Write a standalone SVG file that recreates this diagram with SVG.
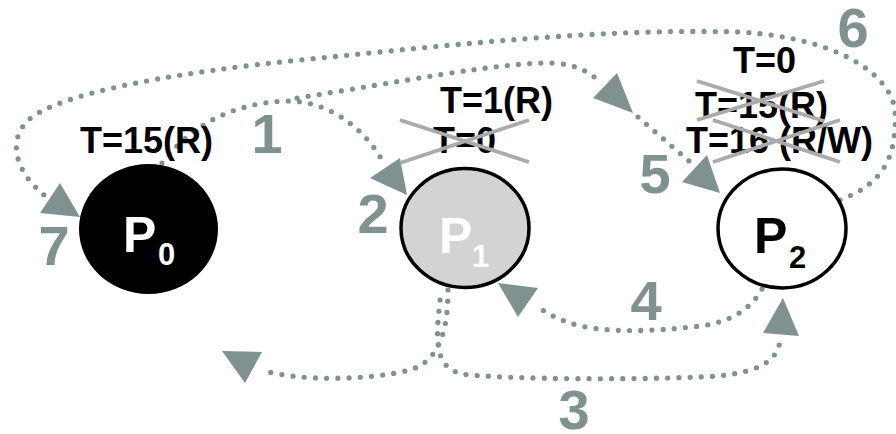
<svg xmlns="http://www.w3.org/2000/svg" width="896" height="434" viewBox="0 0 896 434">
<style>
.lbl{font-family:"Liberation Sans",Arial,sans-serif;font-weight:bold;font-size:36px;fill:#000}
.num{font-family:"Liberation Sans",Arial,sans-serif;font-weight:bold;font-size:56px;fill:#7f9290;text-anchor:middle}
.pn{font-family:"Liberation Sans",Arial,sans-serif;font-weight:bold;font-size:50px}
.sub{font-family:"Liberation Sans",Arial,sans-serif;font-weight:bold;font-size:31px}
.dot{fill:none;stroke:#7f9290;stroke-width:5.2;stroke-linecap:round;stroke-dasharray:0 11.2}
.ah{fill:#7f9290}
.x{stroke:#aaaaaa;stroke-width:3.8;fill:none}
</style>
<rect width="896" height="434" fill="#fff"/>
<g id="connectors">
  <path class="dot" d="M162 163 C195 120 240 103 285 101 C330 100 365 130 382 160"/>
  <polygon class="ah" points="370,178 400,158 407,195"/>
  <path class="dot" d="M297 98 C400 82 500 62 552 63 C575 64 590 72 600 82"/>
  <polygon class="ah" points="593,98 617,73 633,113"/>
  <path class="dot" d="M638 117 L697 168"/>
  <polygon class="ah" points="682,182 707,155 720,193"/>
  <path class="dot" d="M840 200 C880 185 898 160 895 110 C890 75 840 38 740 32 C600 28 450 45 300 60 C180 72 80 90 40 112 C5 130 10 170 48 198"/>
  <polygon class="ah" points="40,213 60,183 80,217"/>
  <path class="dot" d="M448 290 C448 325 442 360 410 370 C370 380 300 382 262 370"/>
  <polygon class="ah" points="222,351 262,352 245,383"/>
  <path class="dot" d="M440 300 C436 340 432 372 470 375 C520 379 620 380 700 377 C760 375 778 360 780 340"/>
  <polygon class="ah" points="763,333 783,298 799,336"/>
  <path class="dot" d="M762 289 C750 310 730 322 700 326 C650 332 600 333 570 323 C555 318 545 312 535 305"/>
  <polygon class="ah" points="498,283 538,288 518,317"/>
</g>
<g id="P0">
  <ellipse cx="148.5" cy="229" rx="69.5" ry="65" fill="#000"/>
  <text class="pn" x="123" y="252" fill="#fff">P</text>
  <text class="sub" x="158" y="265" fill="#fff">0</text>
  <text class="lbl" x="80" y="153">T=15(R)</text>
</g>
<g id="P1">
  <ellipse cx="465" cy="228" rx="64" ry="59.5" fill="#d3d3d3" stroke="#000" stroke-width="3.5"/>
  <text class="pn" x="439" y="253" fill="#fff">P</text>
  <text class="sub" x="472" y="267" fill="#fff">1</text>
  <text class="lbl" x="440" y="113">T=1(R)</text>
  <text class="lbl" x="433" y="153">T=0</text>
  <line class="x" x1="400" y1="120" x2="529" y2="162"/>
  <line class="x" x1="400" y1="163" x2="529" y2="120"/>
</g>
<g id="P2">
  <ellipse cx="782" cy="228.5" rx="64" ry="59.5" fill="#fff" stroke="#000" stroke-width="3.5"/>
  <text class="pn" x="754" y="253" fill="#000">P</text>
  <text class="sub" x="789" y="268" fill="#000">2</text>
  <text class="lbl" x="733" y="73">T=0</text>
  <text class="lbl" x="695" y="118">T=15(R)</text>
  <text class="lbl" x="686" y="153">T=16 (R/W)</text>
  <line class="x" x1="697" y1="120" x2="824" y2="81"/>
  <line class="x" x1="697" y1="81" x2="824" y2="121"/>
  <line class="x" x1="713" y1="162" x2="840" y2="120"/>
  <line class="x" x1="713" y1="120" x2="840" y2="162"/>
</g>
<g id="numbers">
  <text class="num" x="267" y="153">1</text>
  <text class="num" x="373" y="233">2</text>
  <text class="num" x="574" y="429">3</text>
  <text class="num" x="646" y="320">4</text>
  <text class="num" x="655" y="193">5</text>
  <text class="num" x="853" y="47">6</text>
  <text class="num" x="54" y="265">7</text>
</g>
</svg>
